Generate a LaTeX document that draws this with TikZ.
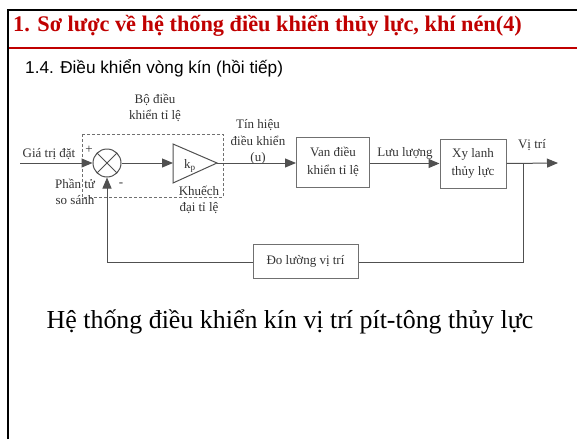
\documentclass[tikz,border=0pt]{standalone}
\usepackage{fontspec}
\setmainfont{Liberation Serif}
\newfontfamily\arialf{Liberation Sans}
\usetikzlibrary{arrows.meta}
\definecolor{titlered}{HTML}{C00000}
\definecolor{ln}{HTML}{505050}
\definecolor{bx}{HTML}{707070}
\definecolor{tx}{HTML}{333333}
\tikzset{
  blk/.style={draw=bx, line width=1pt, rectangle, align=center, font=\fontsize{13}{18}\selectfont, text=tx, inner sep=0pt},
  lbl/.style={align=center, font=\fontsize{13}{16.5}\selectfont, text=tx, inner sep=0pt},
  wire/.style={draw=ln, line width=1pt},
  arr/.style={wire, -{Triangle[length=11pt,width=9pt]}},
}
\begin{document}
\begin{tikzpicture}[x=1pt,y=-1pt]
\useasboundingbox (0,0) rectangle (577,439);
% frame
\draw[titlered, line width=2pt] (8,48) -- (577,48);
\draw[black, line width=2.5pt] (8,439) -- (8,10) -- (577,10);
\node[anchor=base west, text=titlered, font=\fontsize{22.3}{26}\selectfont\bfseries, inner sep=0pt] (title) at (13,31) {1. Sơ lược về hệ thống điều khiển thủy lực, khí nén(4)};
\node[anchor=base west, font=\arialf\fontsize{17.2}{20}\selectfont, inner sep=0pt] (sub) at (25,73) {1.4. Điều khiển vòng kín (hồi tiếp)};

% dashed controller box
\draw[bx, dash pattern=on 3pt off 2pt, line width=0.8pt] (82,134) rectangle (223,197);
\node[lbl] (bolbl) at (155,108) {Bộ điều\\khiển tỉ lệ};

% summing junction
\node[draw=ln, line width=1pt, circle, minimum size=28pt, inner sep=0pt,
  path picture={\draw[ln, line width=1pt] (path picture bounding box.north west) -- (path picture bounding box.south east)
     (path picture bounding box.north east) -- (path picture bounding box.south west);}] (sum) at (107,163) {};
\node[lbl] (plus) at (89,150) {+};
\node[lbl] (minus) at (121,185) {-};
\node[lbl, anchor=base] (gia) at (49,157) {Giá trị đặt};
\node[lbl] (phan) at (75,192) {Phần tử\\so sánh};
\coordinate (in) at (20,163);

% amplifier triangle
\coordinate (ampin) at (173,163);
\coordinate (ampout) at (217,163);
\draw[ln, line width=1pt] (173,144) -- (217,163) -- (173,183) -- cycle;
\node[lbl] (kp) at (190,166) {k\textsubscript{p}};
\node[lbl] (khuech) at (199,200) {Khuếch\\đại tỉ lệ};

% blocks
\node[blk, minimum width=73pt, minimum height=50pt] (van) at (333,162) {Van điều\\khiển tỉ lệ};
\node[blk, minimum width=66pt, minimum height=49pt] (xy) at (473,163.5) {Xy lanh\\thủy lực};
\node[blk, minimum width=105pt, minimum height=34pt] (do) at (305.5,261) {Đo lường vị trí};

\node[lbl] (tin) at (258,142) {Tín hiệu\\điều khiển\\(u)};
\node[lbl] (luu) at (405,153) {Lưu lượng};
\node[lbl] (vitri) at (532,145) {Vị trí};
\coordinate (out) at (558,163);
\coordinate (tap) at (523,163);
\coordinate (fbr) at (523,262);
\coordinate (fbl) at (107,262);

% connectors
\draw[arr] (in) -- (sum.west);
\draw[arr] (sum.east) -- (ampin);
\draw[arr] (ampout) -- (van.west |- ampout);
\draw[arr] (van.east |- xy.west) -- (xy.west);
\draw[arr] (xy.east) -- (out);
\draw[wire] (tap) -- (fbr) -- (do.east |- fbr);
\draw[arr] (do.west |- fbl) -- (fbl) -- (sum.south);

% caption
\node[anchor=base, font=\fontsize{25.9}{30}\selectfont, inner sep=0pt] (cap) at (290,328) {Hệ thống điều khiển kín vị trí pít-tông thủy lực};
\end{tikzpicture}
\end{document}
